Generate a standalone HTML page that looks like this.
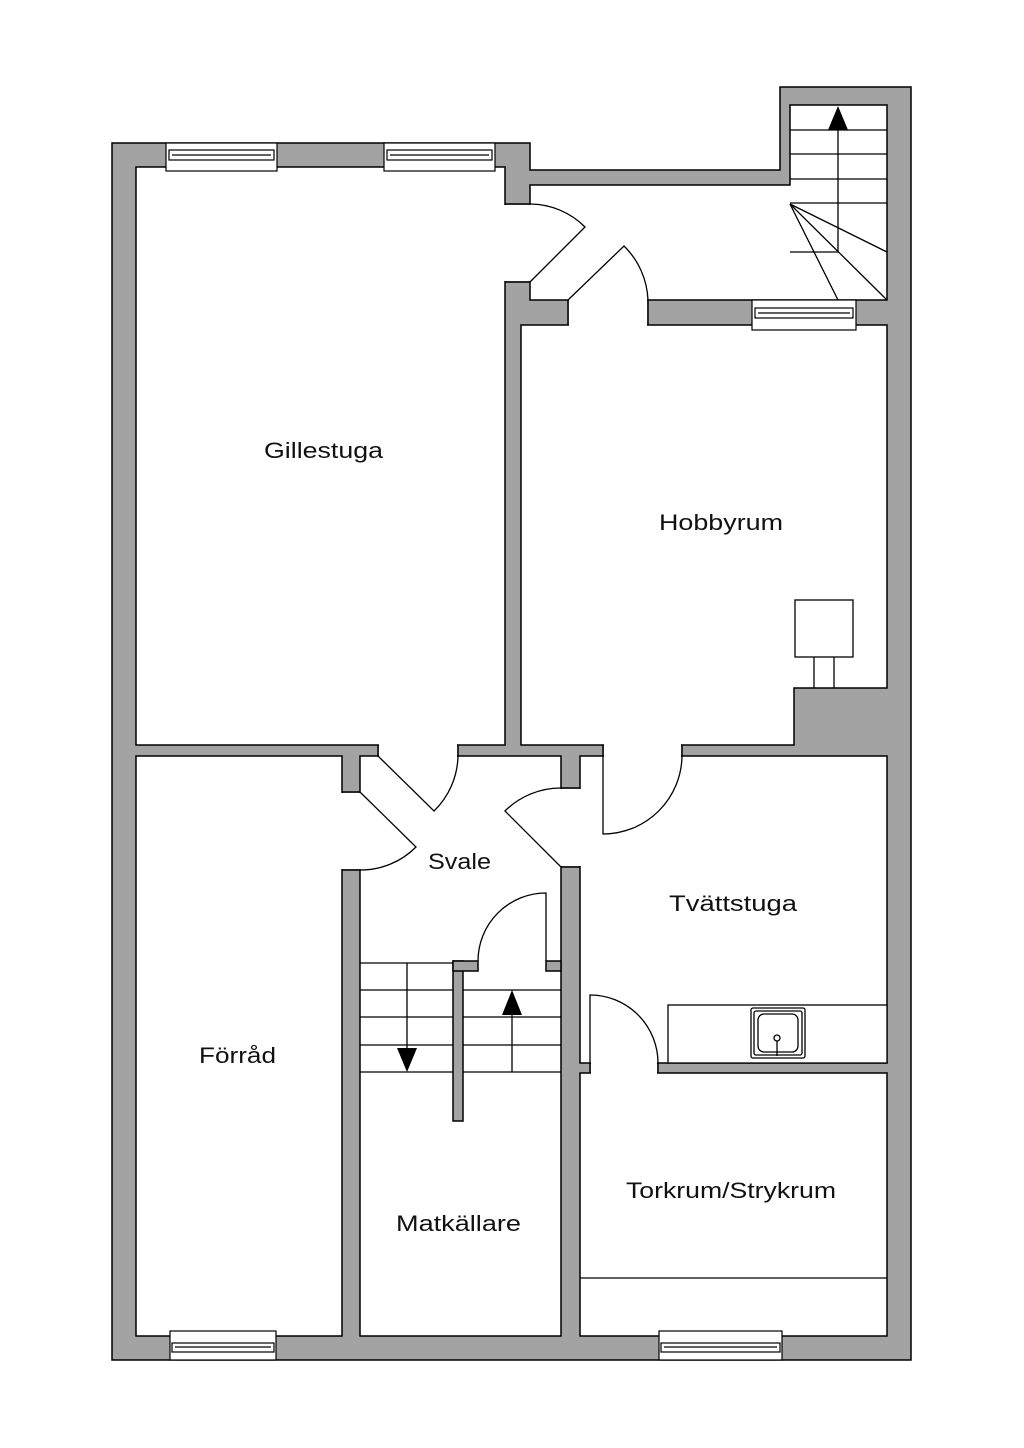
<!DOCTYPE html>
<html><head><meta charset="utf-8"><style>html,body{margin:0;padding:0;background:#fff}svg{display:block}</style></head>
<body>
<svg width="1024" height="1448" viewBox="0 0 1024 1448" xmlns="http://www.w3.org/2000/svg">
<g stroke="#000" stroke-width="1.5">
<!-- outer gray -->
<polygon points="112,143 530,143 530,170 780,170 780,87 911,87 911,1360 112,1360" fill="#a3a3a3"/>
<!-- rooms -->
<g fill="#fff">
<rect x="136" y="167" width="369" height="578"/>
<polygon points="530,185 790,185 790,105 887,105 887,300 530,300"/>
<polygon points="521,325 887,325 887,688 794,688 794,745 521,745"/>
<rect x="580" y="756" width="307" height="307"/>
<rect x="580" y="1073" width="307" height="263"/>
<rect x="136" y="756" width="206" height="580"/>
<rect x="360" y="756" width="201" height="580"/>
</g>
</g>
<!-- door gaps -->
<g fill="#fff">
<rect x="504" y="205" width="27" height="76"/>
<rect x="569" y="299" width="78" height="27"/>
<rect x="379" y="744" width="78" height="13"/>
<rect x="604" y="744" width="77" height="13"/>
<rect x="341" y="793" width="20" height="76"/>
<rect x="560" y="789" width="21" height="77"/>
<rect x="591" y="1062" width="66" height="12"/>
</g>
<g stroke="#000" stroke-width="1.5" fill="none">
<line x1="505" y1="204" x2="530" y2="204"/><line x1="505" y1="282" x2="530" y2="282"/>
<line x1="568" y1="300" x2="568" y2="325"/><line x1="648" y1="300" x2="648" y2="325"/>
<line x1="378" y1="745" x2="378" y2="756"/><line x1="458" y1="745" x2="458" y2="756"/>
<line x1="603" y1="745" x2="603" y2="756"/><line x1="682" y1="745" x2="682" y2="756"/>
<line x1="342" y1="792" x2="360" y2="792"/><line x1="342" y1="870" x2="360" y2="870"/>
<line x1="561" y1="788" x2="580" y2="788"/><line x1="561" y1="867" x2="580" y2="867"/>
<line x1="590" y1="1063" x2="590" y2="1073"/><line x1="658" y1="1063" x2="658" y2="1073"/>
</g>
<!-- interior gray pieces -->
<g fill="#a3a3a3" stroke="#000" stroke-width="1.5">
<rect x="453" y="961" width="10" height="160"/>
<rect x="453" y="961" width="25" height="10"/>
<rect x="546" y="961" width="15" height="10"/>
</g>
<rect x="454" y="962" width="8" height="8" fill="#a3a3a3"/>
<!-- stairs Svale -->
<g stroke="#000" stroke-width="1.3" fill="none">
<line x1="360" y1="963" x2="453" y2="963"/>
<line x1="360" y1="990" x2="453" y2="990"/><line x1="463" y1="990" x2="561" y2="990"/>
<line x1="360" y1="1017" x2="453" y2="1017"/><line x1="463" y1="1017" x2="561" y2="1017"/>
<line x1="360" y1="1045" x2="453" y2="1045"/><line x1="463" y1="1045" x2="561" y2="1045"/>
<line x1="360" y1="1072" x2="453" y2="1072"/><line x1="463" y1="1072" x2="561" y2="1072"/>
<line x1="407" y1="963" x2="407" y2="1050"/>
<line x1="512" y1="1072" x2="512" y2="1012"/>
<!-- top stairs -->
<line x1="790" y1="130" x2="887" y2="130"/>
<line x1="790" y1="154" x2="887" y2="154"/>
<line x1="790" y1="179" x2="887" y2="179"/>
<line x1="790" y1="203" x2="887" y2="203"/>
<line x1="790" y1="252" x2="838" y2="252"/>
<line x1="838" y1="128" x2="838" y2="252"/>
<line x1="790" y1="204" x2="887" y2="252"/>
<line x1="790" y1="204" x2="887" y2="300"/>
<line x1="790" y1="204" x2="838" y2="300"/>
<!-- doors -->
<path d="M530,282 L585,227 A78,78 0 0 0 530,204"/>
<path d="M568,300 L624,246 A80,80 0 0 1 648,300"/>
<path d="M378,756 L434,811 A79,79 0 0 0 458,756"/>
<path d="M360,792 L416,847 A78,78 0 0 1 360,870"/>
<path d="M561,867 L505,811 A79,79 0 0 1 561,788"/>
<path d="M603,756 L603,834 A79,79 0 0 0 682,756"/>
<path d="M546,961 L546,893 A68,68 0 0 0 478,961"/>
<path d="M590,1063 L590,995 A68,68 0 0 1 658,1063"/>
<!-- torkrum line -->
<line x1="580" y1="1278" x2="887" y2="1278"/>
</g>
<g fill="#000">
<polygon points="838,106 828,130 848,130"/>
<polygon points="397,1048 417,1048 407,1072"/>
<polygon points="512,990 502,1015 522,1015"/>
</g>
<!-- chimney & box -->
<g stroke="#000" stroke-width="1.3" fill="#fff">
<rect x="795" y="600" width="58" height="57"/>
<line x1="814" y1="657" x2="814" y2="688"/><line x1="834" y1="657" x2="834" y2="688"/>
<!-- counter -->
<rect x="668" y="1005" width="219" height="58"/>
<rect x="751" y="1008" width="54" height="50" rx="2"/>
<rect x="754" y="1011" width="48" height="44" rx="2"/>
<rect x="758" y="1014" width="40" height="38" rx="6"/>
<circle cx="777" cy="1038" r="3"/>
<line x1="777" y1="1041" x2="777" y2="1056"/>
</g>
<!-- windows -->
<g stroke="#000" stroke-width="1.2" fill="#fff">
<rect x="166" y="143" width="111" height="28"/><rect x="169" y="150" width="105" height="10"/><line x1="172" y1="155" x2="271" y2="155"/>
<rect x="384" y="143" width="111" height="28"/><rect x="387" y="150" width="105" height="10"/><line x1="390" y1="155" x2="489" y2="155"/>
<rect x="752" y="300" width="104" height="30"/><rect x="755" y="308" width="98" height="10"/><line x1="758" y1="313" x2="850" y2="313"/>
<rect x="170" y="1331" width="106" height="29"/><rect x="172" y="1343" width="102" height="9"/><line x1="175" y1="1347" x2="271" y2="1347"/>
<rect x="659" y="1331" width="123" height="29"/><rect x="661" y="1343" width="119" height="9"/><line x1="664" y1="1347" x2="777" y2="1347"/>
</g>
<!-- labels -->
<g font-family="Liberation Sans, sans-serif" font-size="22" fill="#111">
<text x="264" y="458" textLength="119" lengthAdjust="spacingAndGlyphs">Gillestuga</text>
<text x="659" y="530" textLength="124" lengthAdjust="spacingAndGlyphs">Hobbyrum</text>
<text x="428" y="869" textLength="63" lengthAdjust="spacingAndGlyphs">Svale</text>
<text x="669" y="911" textLength="128" lengthAdjust="spacingAndGlyphs">Tvättstuga</text>
<text x="199" y="1063" textLength="77" lengthAdjust="spacingAndGlyphs">Förråd</text>
<text x="396" y="1231" textLength="125" lengthAdjust="spacingAndGlyphs">Matkällare</text>
<text x="626" y="1198" textLength="210" lengthAdjust="spacingAndGlyphs">Torkrum/Strykrum</text>
</g>
</svg>
</body></html>
